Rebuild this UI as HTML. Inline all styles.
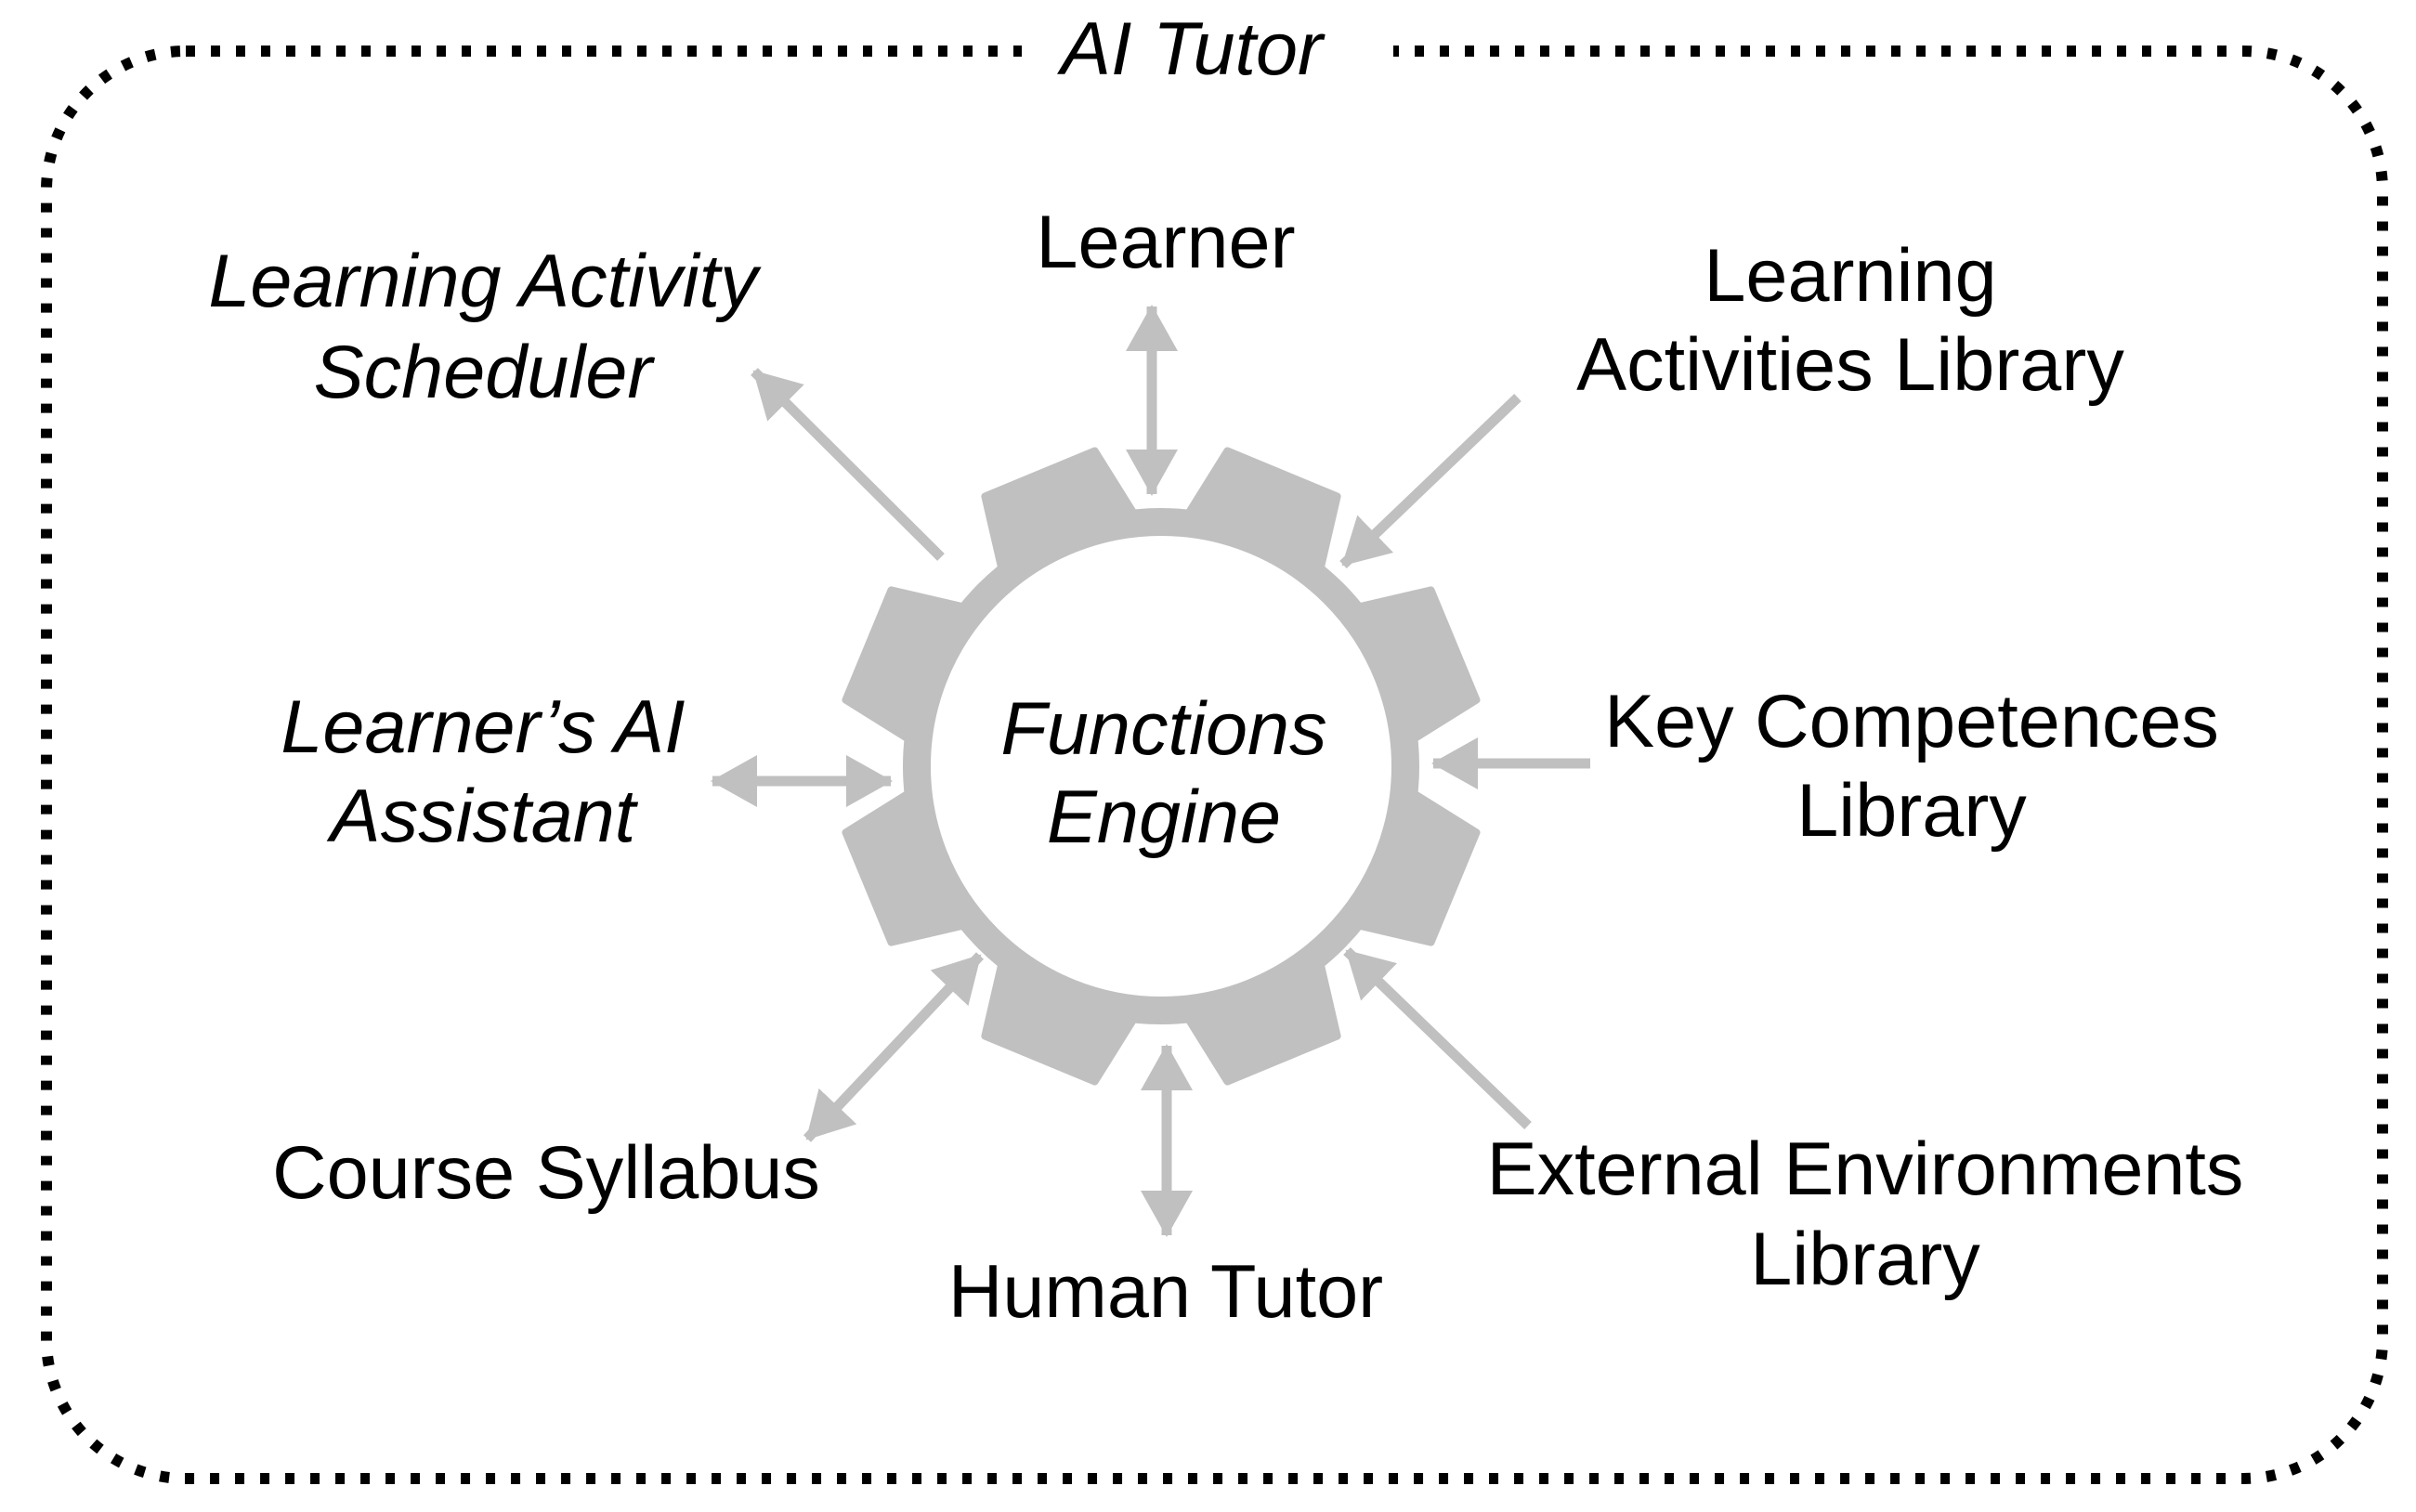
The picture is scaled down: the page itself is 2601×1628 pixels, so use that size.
<!DOCTYPE html>
<html><head><meta charset="utf-8"><style>
html,body{margin:0;padding:0;background:#fff;overflow:hidden;width:2601px;height:1628px;}
svg{display:block;}
text{font-family:"Liberation Sans",sans-serif;font-size:81px;fill:#000;}
.i{font-style:italic;}
</style></head><body>
<svg width="2601" height="1628" viewBox="0 0 2601 1628" xmlns="http://www.w3.org/2000/svg">
<defs>
<marker id="ah" markerUnits="userSpaceOnUse" markerWidth="60" markerHeight="60" refX="48" refY="28" orient="auto-start-reverse" viewBox="0 0 60 56">
<path d="M0,0 L50,28 L0,56 Z" fill="#c0c0c0"/>
</marker>
</defs>
<rect x="50" y="55" width="2515" height="1537" rx="150" ry="150" fill="none" stroke="#000" stroke-width="12" stroke-dasharray="10 17"/>
<rect x="1100" y="10" width="400" height="90" fill="#fff"/>
<text x="1283" y="80" text-anchor="middle" class="i" font-size="78">AI Tutor</text>

<g fill="#c0c0c0" stroke="#c0c0c0" stroke-width="8" stroke-linejoin="round">
<polygon transform="rotate(22.5 1250 825)" points="1172,568 1186,484 1314,484 1328,568"/>
<polygon transform="rotate(67.5 1250 825)" points="1172,568 1186,484 1314,484 1328,568"/>
<polygon transform="rotate(112.5 1250 825)" points="1172,568 1186,484 1314,484 1328,568"/>
<polygon transform="rotate(157.5 1250 825)" points="1172,568 1186,484 1314,484 1328,568"/>
<polygon transform="rotate(202.5 1250 825)" points="1172,568 1186,484 1314,484 1328,568"/>
<polygon transform="rotate(247.5 1250 825)" points="1172,568 1186,484 1314,484 1328,568"/>
<polygon transform="rotate(292.5 1250 825)" points="1172,568 1186,484 1314,484 1328,568"/>
<polygon transform="rotate(337.5 1250 825)" points="1172,568 1186,484 1314,484 1328,568"/>
</g>
<circle cx="1250" cy="825" r="263" fill="#fff" stroke="#c0c0c0" stroke-width="30"/>

<g stroke="#c0c0c0" stroke-width="11" fill="none">
<line x1="1240" y1="330" x2="1240" y2="532" marker-start="url(#ah)" marker-end="url(#ah)"/>
<line x1="1013" y1="600" x2="812" y2="400" marker-end="url(#ah)"/>
<line x1="1634" y1="428" x2="1446" y2="608" marker-end="url(#ah)"/>
<line x1="1712" y1="822" x2="1543" y2="822" marker-end="url(#ah)"/>
<line x1="767" y1="841" x2="959" y2="841" marker-start="url(#ah)" marker-end="url(#ah)"/>
<line x1="869" y1="1226" x2="1055" y2="1029" marker-start="url(#ah)" marker-end="url(#ah)"/>
<line x1="1256" y1="1126" x2="1256" y2="1330" marker-start="url(#ah)" marker-end="url(#ah)"/>
<line x1="1645" y1="1212" x2="1450" y2="1024" marker-end="url(#ah)"/>
</g>

<text x="1253" y="812" text-anchor="middle" class="i">Functions</text>
<text x="1253" y="907" text-anchor="middle" class="i">Engine</text>
<text x="520" y="330" text-anchor="middle" class="i">Learning Activity</text>
<text x="520" y="428" text-anchor="middle" class="i">Scheduler</text>
<text x="1255" y="288" text-anchor="middle">Learner</text>
<text x="1992" y="324" text-anchor="middle">Learning</text>
<text x="1992" y="420" text-anchor="middle">Activities Library</text>
<text x="2058" y="804" text-anchor="middle">Key Competences</text>
<text x="2058" y="900" text-anchor="middle">Library</text>
<text x="520" y="810" text-anchor="middle" class="i">Learner’s AI</text>
<text x="520" y="906" text-anchor="middle" class="i">Assistant</text>
<text x="588" y="1290" text-anchor="middle">Course Syllabus</text>
<text x="1255" y="1418" text-anchor="middle">Human Tutor</text>
<text x="2008" y="1286" text-anchor="middle">External Environments</text>
<text x="2008" y="1383" text-anchor="middle">Library</text>
</svg>
</body></html>
